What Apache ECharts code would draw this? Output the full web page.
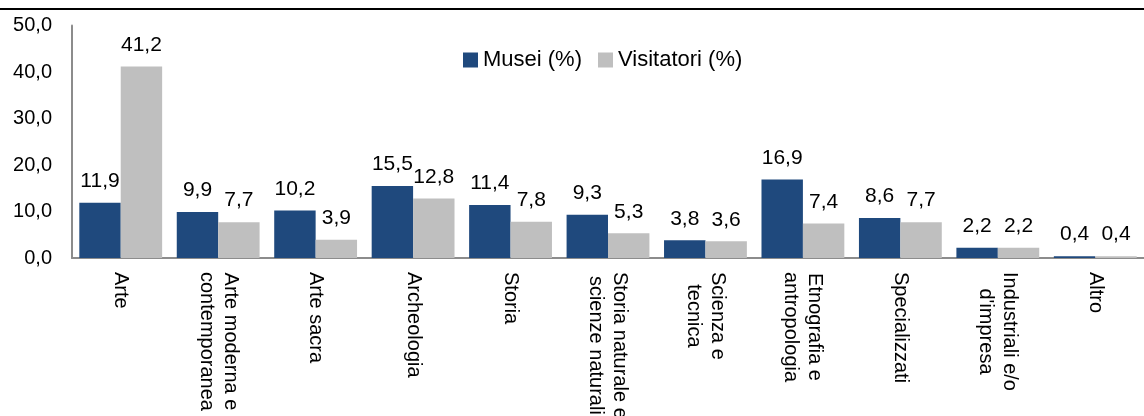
<!DOCTYPE html>
<html>
<head>
<meta charset="utf-8">
<script src="https://cdn.jsdelivr.net/npm/echarts@6/dist/echarts.min.js"></script>
<style>
html,body{margin:0;padding:0;background:#fff;}
#chart{width:1144px;height:416px;}
</style>
</head>
<body>
<div id="chart"></div>
<script>
var categories = [
  "Arte",
  "Arte moderna e\ncontemporanea",
  "Arte sacra",
  "Archeologia",
  "Storia",
  "Storia naturale e\nscienze naturali",
  "Scienza e\ntecnica",
  "Etnografia e\nantropologia",
  "Specializzati",
  "Industriali e/o\nd'impresa",
  "Altro"
];
var musei = [11.9, 9.9, 10.2, 15.5, 11.4, 9.3, 3.8, 16.9, 8.6, 2.2, 0.4];
var visitatori = [41.2, 7.7, 3.9, 12.8, 7.8, 5.3, 3.6, 7.4, 7.7, 2.2, 0.4];
var seriesNames = ["Musei (%)", "Visitatori (%)"];
var yTicks = { min: 0, max: 50, interval: 10 };

var FONT = "'Liberation Sans', Arial, sans-serif";
function fmt(v) { return Number(v).toFixed(1).replace('.', ','); }

var chart = echarts.init(document.getElementById('chart'), null, { renderer: 'canvas' });
var labelStyle = {
  show: true,
  position: 'top',
  distance: 11,
  fontSize: 21,
  fontFamily: FONT,
  color: '#000',
  formatter: function (p) { return fmt(p.value); }
};
chart.setOption({
  animation: false,
  backgroundColor: '#fff',
  graphic: [{
    type: 'line',
    shape: { x1: 0, y1: 9, x2: 1144, y2: 9 },
    style: { stroke: '#000', lineWidth: 2 }
  }],
  legend: {
    left: 458,
    top: 44,
    icon: 'rect',
    itemWidth: 15,
    itemHeight: 15,
    itemGap: 16,
    textStyle: { fontSize: 22, fontFamily: FONT, color: '#000' },
    data: seriesNames
  },
  grid: { left: 72, right: 0, top: 25.5, bottom: 158, containLabel: false, outerBoundsMode: 'none' },
  xAxis: {
    type: 'category',
    data: categories,
    axisLine: { lineStyle: { color: '#8c8c8c', width: 2 } },
    axisTick: { show: false },
    axisLabel: {
      rotate: -90,
      interval: 0,
      margin: 14,
      formatter: function (v) {
        return v.split('\n').map(function (s) { return '{c|' + s + '}'; }).join('\n');
      },
      rich: {
        c: { align: 'center', fontSize: 20, fontFamily: FONT, color: '#000', lineHeight: 24 }
      }
    }
  },
  yAxis: {
    type: 'value',
    min: yTicks.min,
    max: yTicks.max,
    interval: yTicks.interval,
    splitLine: { show: false },
    axisLine: { show: true, lineStyle: { color: '#8c8c8c', width: 2 } },
    axisTick: { show: false },
    axisLabel: {
      margin: 20,
      fontSize: 20,
      fontFamily: FONT,
      color: '#000',
      formatter: function (v) { return fmt(v); }
    }
  },
  series: [
    {
      name: seriesNames[0],
      type: 'bar',
      data: musei,
      barGap: '0%',
      barCategoryGap: '15%',
      itemStyle: { color: '#1F497D' },
      label: labelStyle
    },
    {
      name: seriesNames[1],
      type: 'bar',
      data: visitatori,
      barGap: '0%',
      barCategoryGap: '15%',
      itemStyle: { color: '#BFBFBF' },
      label: labelStyle
    }
  ]
});
</script>
</body>
</html>
